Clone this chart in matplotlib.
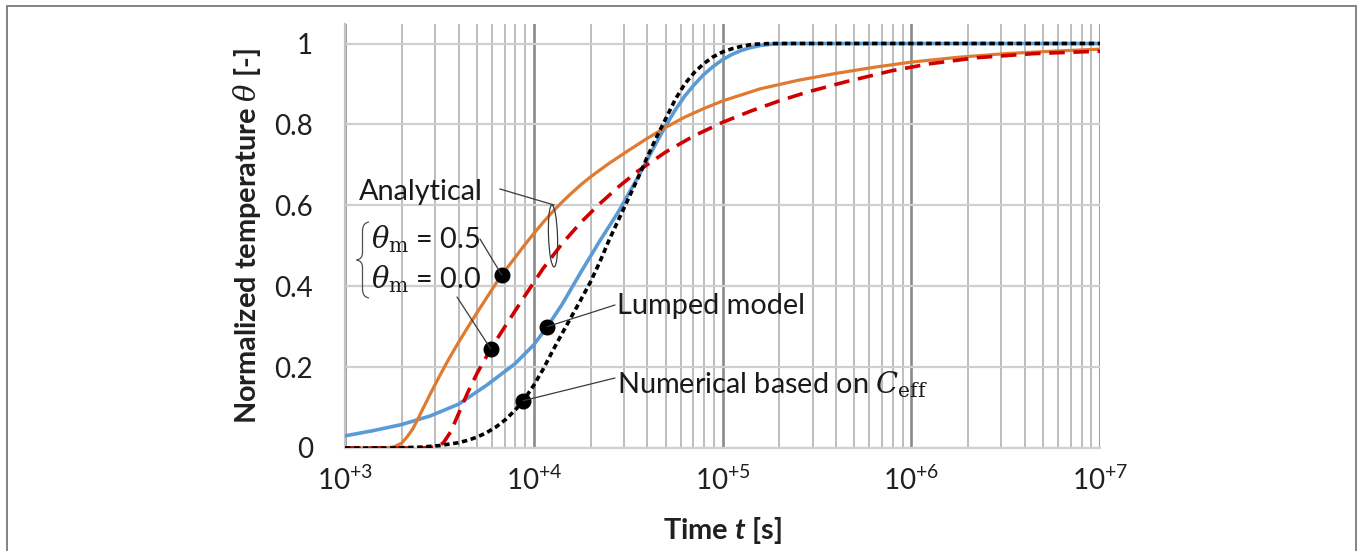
import numpy as np
import matplotlib
matplotlib.use('Agg')
import matplotlib.pyplot as plt
from matplotlib.patches import Ellipse, Rectangle, PathPatch
from matplotlib.path import Path

plt.rcParams['font.family'] = ['Lato', 'DejaVu Sans']
plt.rcParams['mathtext.fontset'] = 'custom'
plt.rcParams['mathtext.rm'] = 'Lato'
plt.rcParams['mathtext.it'] = 'DejaVu Serif:italic'
plt.rcParams['mathtext.cal'] = 'DejaVu Serif'
plt.rcParams['mathtext.sf'] = 'Lato:italic:bold'

# ---------------- data ----------------
lumped_t = [1e3, 1413, 1995, 2818, 3981, 5623, 7943, 1e4, 11803, 14125, 17783, 22387,
            28184, 35481, 44668, 50119, 56234, 63096, 70795, 79433, 89125, 1e5, 112202,
            125893, 141254, 158489, 186209, 223872, 1e6, 1e7]
lumped_y = [0.030, 0.043, 0.058, 0.079, 0.108, 0.155, 0.208, 0.255, 0.300, 0.355, 0.435, 0.512,
            0.585, 0.668, 0.755, 0.797, 0.836, 0.870, 0.898, 0.923, 0.943, 0.960, 0.973,
            0.983, 0.990, 0.995, 0.999, 1.0, 1.0, 1.0]

numer_t = [1e3, 1778, 2512, 3162, 3981, 4467, 5012, 5623, 6310, 7079, 7943, 8810, 1e4,
           11220, 12589, 14125, 15849, 17783, 19953, 22387, 25119, 28184, 31623, 35481,
           39811, 44668, 50119, 56234, 63096, 70795, 79433, 89125, 1e5, 112202, 125893,
           144544, 177828, 1e6, 1e7]
numer_y = [0.0, 0.0, 0.002, 0.006, 0.013, 0.019, 0.027, 0.038, 0.052, 0.070, 0.093, 0.117, 0.155,
           0.195, 0.240, 0.283, 0.325, 0.367, 0.410, 0.460, 0.515, 0.565, 0.615, 0.665,
           0.718, 0.768, 0.815, 0.862, 0.900, 0.928, 0.950, 0.967, 0.979, 0.987, 0.993,
           0.998, 1.0, 1.0, 1.0]

anal05_t = [1e3, 1648, 1820, 1995, 2138, 2291, 2512, 2818, 3162, 3548, 3981, 4467, 5012,
            5623, 6310, 6761, 7943, 8913, 1e4, 11220, 12589, 14125, 15849, 17783, 19953,
            25119, 31623, 39811, 50119, 63096, 79433, 1e5, 158489, 251189, 398107, 630957,
            1e6, 1778279, 3162278, 5623413, 1e7]
anal05_y = [0.0, 0.0, 0.003, 0.012, 0.028, 0.048, 0.085, 0.132, 0.177, 0.220, 0.260, 0.298, 0.335,
            0.371, 0.407, 0.428, 0.470, 0.501, 0.530, 0.558, 0.584, 0.608, 0.630, 0.651, 0.670,
            0.704, 0.735, 0.765, 0.793, 0.818, 0.839, 0.858, 0.888, 0.909, 0.926, 0.941,
            0.954, 0.966, 0.975, 0.981, 0.986]

anal00_t = [1e3, 2512, 3020, 3311, 3631, 3981, 4467, 5012, 5916, 7079, 8913, 11220, 14125,
            17783, 22387, 28184, 35481, 50119, 70795, 1e5, 141254, 199526, 281838, 446684,
            794328, 1258925, 2238721, 4466836, 1e7]
anal00_y = [0.0, 0.0, 0.002, 0.012, 0.040, 0.083, 0.137, 0.185, 0.245, 0.302, 0.374, 0.444, 0.505,
            0.558, 0.604, 0.646, 0.684, 0.732, 0.772, 0.805, 0.833, 0.858, 0.880, 0.905,
            0.933, 0.950, 0.965, 0.975, 0.981]

# marker points (t, theta) for annotations: theta_m=0.5, theta_m=0.0, lumped, numerical
marker_t = [6761, 5916, 11803, 8810]
marker_y = [0.428, 0.245, 0.300, 0.117]

xtick_exps = [3, 4, 5, 6, 7]
ytick_vals = [0, 0.2, 0.4, 0.6, 0.8, 1.0]
ytick_labels = ['0', '0.2', '0.4', '0.6', '0.8', '1']

# ---------------- figure ----------------
W, H = 1360, 551
fig = plt.figure(figsize=(W / 100, H / 100), dpi=100)
fig.patch.set_facecolor('white')

def F(x, y):
    return (x / W, 1 - y / H)

def P(x, y):
    return (x / 100.0, (H - y) / 100.0)

ax = fig.add_axes([345 / W, 1 - 448 / H, 755 / W, 424 / H])
ax.set_xscale('log')
ax.set_xlim(1e3, 1e7)
ax.set_ylim(0, 424 / 404.5)

FS = 20.8

# grid
ax.set_xticks([10.0 ** e for e in xtick_exps])
ax.set_xticklabels([r'$\mathrm{10^{+%d}}$' % e for e in xtick_exps])
minor = [m * 10.0 ** e for e in xtick_exps[:-1] for m in range(2, 10)]
ax.set_xticks(minor, minor=True)
ax.set_xticklabels([], minor=True)
ax.set_yticks(ytick_vals)
ax.set_yticklabels(ytick_labels)
ax.grid(True, which='major', axis='x', color='#8a8a8a', lw=1.9, zorder=0)
ax.grid(True, which='minor', axis='x', color='#bdbdbd', lw=1.4, zorder=0)
ax.grid(True, which='major', axis='y', color='#cfcfcf', lw=1.6, zorder=0)
ax.set_axisbelow(True)
ax.tick_params(which='both', length=0)
ax.tick_params(axis='y', pad=23, labelsize=20, labelcolor='#202020')
ax.tick_params(axis='x', pad=13, labelsize=20, labelcolor='#202020')
for s in ['top', 'right']:
    ax.spines[s].set_visible(False)
ax.spines['left'].set_color('#c4c4c4')
ax.spines['left'].set_linewidth(1.6)
ax.spines['bottom'].set_color('#d0d0d0')
ax.spines['bottom'].set_linewidth(1.6)

# curves
ax.plot(lumped_t, lumped_y, color='#5b9bd5', lw=2.6, zorder=3, solid_joinstyle='round')
ax.plot(anal05_t, anal05_y, color='#e07a30', lw=2.3, zorder=3, solid_joinstyle='round')
ax.plot(anal00_t, anal00_y, color='#d00000', lw=2.6, zorder=4, dashes=(4.3, 2.4))
ax.plot(numer_t, numer_y, color='black', lw=2.6, zorder=5, dashes=(1.5, 1.0))
ax.plot(marker_t, marker_y, 'o', color='black', ms=10.5, zorder=6, linestyle='none')

# labels
ax.set_ylabel(r'Normalized temperature $\theta$ [-]', fontsize=FS, fontweight='bold',
              va='center', ha='center', color='#202020')
ax.yaxis.set_label_coords((247 - 345) / 755, 0.5)
ax.set_xlabel(r'Time $\mathsf{t}$ [s]', fontsize=FS, fontweight='bold',
              va='center', ha='center', color='#202020')
ax.xaxis.set_label_coords(0.5, (448 - 531) / 424)

# annotations
tc = '#1a1a1a'
lc = '#3a3a3a'
fig.text(*F(359, 200), 'Analytical', fontsize=FS, va='baseline', ha='left', color=tc)
fig.text(*F(371, 248), r'$\theta_{\mathcal{m}}$ = 0.5', fontsize=FS, va='baseline', ha='left', color=tc)
fig.text(*F(371, 288), r'$\theta_{\mathcal{m}}$ = 0.0', fontsize=FS, va='baseline', ha='left', color=tc)
fig.text(*F(617, 314), 'Lumped model', fontsize=FS, va='baseline', ha='left', color=tc)
fig.text(*F(617, 393), r'Numerical based on $C_{\mathcal{eff}}$', fontsize=FS, va='baseline',
         ha='left', color=tc)

leader_from = [(480, 239), (457, 297), (615, 305), (615, 378)]
for (px, py), mt, my in zip(leader_from, marker_t, marker_y):
    ax.annotate('', xy=(mt, my), xycoords='data', xytext=(px, H - py),
                textcoords='figure pixels',
                arrowprops=dict(arrowstyle='-', color=lc, lw=0.9, shrinkA=0, shrinkB=0),
                zorder=7)

# Analytical leader + ellipse
ex, ey = P(553, 236)
ell = Ellipse((ex, ey), 0.09, 0.62, angle=2, transform=fig.dpi_scale_trans,
              fill=False, edgecolor=lc, lw=0.9, zorder=7)
fig.add_artist(ell)
x0, y0 = P(500, 189)
x1, y1 = P(554, 205)
fig.add_artist(plt.Line2D([x0, x1], [y0, y1], transform=fig.dpi_scale_trans, color=lc, lw=0.9))

# brace
pts = [P(369, 222), P(362.5, 223), P(362.5, 231), P(362.5, 253), P(362.5, 259), P(356.5, 260),
       P(362.5, 261), P(362.5, 267), P(362.5, 289), P(362.5, 297), P(369, 298)]
codes = [Path.MOVETO, Path.CURVE3, Path.CURVE3, Path.LINETO, Path.CURVE3, Path.CURVE3,
         Path.CURVE3, Path.CURVE3, Path.LINETO, Path.CURVE3, Path.CURVE3]
fig.add_artist(PathPatch(Path(pts, codes), transform=fig.dpi_scale_trans, fill=False,
                         edgecolor='#505050', lw=0.9))

# outer frame
fx, fy = P(7, 6)
fig.add_artist(Rectangle((fx, -0.2), (1356 - 7) / 100, fy + 0.2, transform=fig.dpi_scale_trans,
                         fill=False, edgecolor='#7a7a7a', lw=1.3))

fig.savefig('out.png', dpi=100)
